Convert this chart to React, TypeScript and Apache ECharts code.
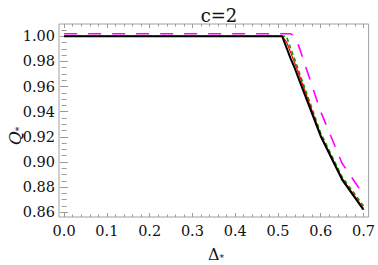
import React, { useEffect, useRef } from "react";
import * as echarts from "echarts";

const xs = [0, 0.5, 0.51, 0.52, 0.53, 0.54, 0.55, 0.6, 0.65, 0.7];
const blackQ = [1, 1, 1, 0.991, 0.982, 0.974, 0.965, 0.9205, 0.886, 0.862];
const redQ = [1, 1, 1, 0.9955, 0.987, 0.978, 0.969, 0.9215, 0.887, 0.863];
const greenQ = [1, 1, 1, 1, 0.99, 0.981, 0.971, 0.923, 0.888, 0.865];
const magentaQ = [1.002, 1.002, 1.002, 1.002, 1.002, 0.9995, 0.991, 0.94, 0.899, 0.874];

const xMajor = [0, 0.1, 0.2, 0.3, 0.4, 0.5, 0.6, 0.7];
const yMajor = [0.86, 0.88, 0.9, 0.92, 0.94, 0.96, 0.98, 1.0];

const title = "c=2";

const X_MIN = -0.012;
const X_MAX = 0.712;
const Y_MIN = 0.8562;
const Y_MAX = 1.0098;

function range(a: number, b: number, step: number): number[] {
  const out: number[] = [];
  const n = Math.round((b - a) / step);
  for (let i = 0; i <= n; i++) out.push(+(a + i * step).toFixed(4));
  return out;
}

const xMinor = range(0, 0.7, 0.02);
const yMinor = range(0.86, 1.005, 0.005);

const SERIF = "DejaVu Serif";
const TICK = "#9a9a9a";

function pairs(ys: number[]) {
  return xs.map((x, i) => [x, ys[i]]);
}

export default function App() {
  const ref = useRef<HTMLDivElement>(null);
  useEffect(() => {
    if (!ref.current) return;
    const chart = echarts.init(ref.current, null, { renderer: "svg" });
    const mkX = (pos: "bottom" | "top", ticks: number[], len: number, labels: boolean) => ({
      type: "value",
      position: pos,
      min: X_MIN,
      max: X_MAX,
      splitLine: { show: false },
      axisLine: { show: false },
      axisTick: {
        show: true,
        inside: true,
        length: len,
        customValues: ticks,
        lineStyle: { color: TICK, width: 1 },
      },
      axisLabel: labels
        ? {
            show: true,
            customValues: xMajor,
            formatter: (v: number) => v.toFixed(1),
            fontFamily: SERIF,
            fontSize: 14.5,
            color: "#111",
            margin: 6,
          }
        : { show: false },
    });
    const mkY = (pos: "left" | "right", ticks: number[], len: number, labels: boolean) => ({
      type: "value",
      position: pos,
      min: Y_MIN,
      max: Y_MAX,
      splitLine: { show: false },
      axisLine: { show: false },
      axisTick: {
        show: true,
        inside: true,
        length: len,
        customValues: ticks,
        lineStyle: { color: TICK, width: 1 },
      },
      axisLabel: labels
        ? {
            show: true,
            customValues: yMajor,
            formatter: (v: number) => v.toFixed(2),
            fontFamily: SERIF,
            fontSize: 14.5,
            color: "#111",
            margin: 4,
          }
        : { show: false },
    });
    chart.setOption({
      animation: false,
      backgroundColor: "#ffffff",
      grid: {
        left: 59,
        top: 24,
        width: 314,
        height: 193,
        show: true,
        borderColor: "#a0a0a0",
        borderWidth: 1,
        backgroundColor: "transparent",
      },
      title: {
        text: title,
        left: 214,
        top: 1,
        textAlign: "center",
        textStyle: { fontFamily: SERIF, fontSize: 18, fontWeight: "normal", color: "#111" },
      },
      xAxis: [
        mkX("bottom", xMajor, 4, true),
        mkX("bottom", xMinor, 2.5, false),
        mkX("top", xMajor, 4, false),
        mkX("top", xMinor, 2.5, false),
      ],
      yAxis: [
        mkY("left", yMajor, 4, true),
        mkY("left", yMinor, 2.5, false),
        mkY("right", yMajor, 4, false),
        mkY("right", yMinor, 2.5, false),
      ],
      graphic: [
        {
          type: "text",
          x: 216,
          y: 254,
          style: {
            text: "{a|Δ}{b|*}",
            align: "center",
            verticalAlign: "middle",
            rich: {
              a: { fontFamily: SERIF, fontSize: 16, fill: "#111" },
              b: { fontFamily: SERIF, fontSize: 9, fill: "#111", padding: [8, 0, 0, 0] },
            },
          },
        },
        {
          type: "text",
          x: 15,
          y: 136,
          rotation: Math.PI / 2,
          style: {
            text: "{a|Q}{b|*}",
            align: "center",
            verticalAlign: "middle",
            rich: {
              a: { fontFamily: SERIF, fontSize: 17, fontStyle: "italic", fill: "#111" },
              b: { fontFamily: SERIF, fontSize: 9, fill: "#111", padding: [8, 0, 0, 0] },
            },
          },
        },
      ],
      series: [
        {
          type: "line",
          data: pairs(magentaQ),
          symbol: "none",
          lineStyle: { color: "#ff00ff", width: 1.6, type: [13, 11] },
        },
        {
          type: "line",
          data: pairs(greenQ),
          symbol: "none",
          lineStyle: { color: "#00a000", width: 1.6, type: [4, 3] },
        },
        {
          type: "line",
          data: pairs(redQ),
          symbol: "none",
          lineStyle: { color: "#ff0000", width: 1.2 },
        },
        {
          type: "line",
          data: pairs(blackQ),
          symbol: "none",
          lineStyle: { color: "#000000", width: 2 },
        },
      ],
    });
    return () => chart.dispose();
  }, []);
  return (
    <div
      ref={ref}
      style={{ position: "fixed", left: 0, top: 0, width: 378, height: 265, background: "#fff" }}
    />
  );
}
